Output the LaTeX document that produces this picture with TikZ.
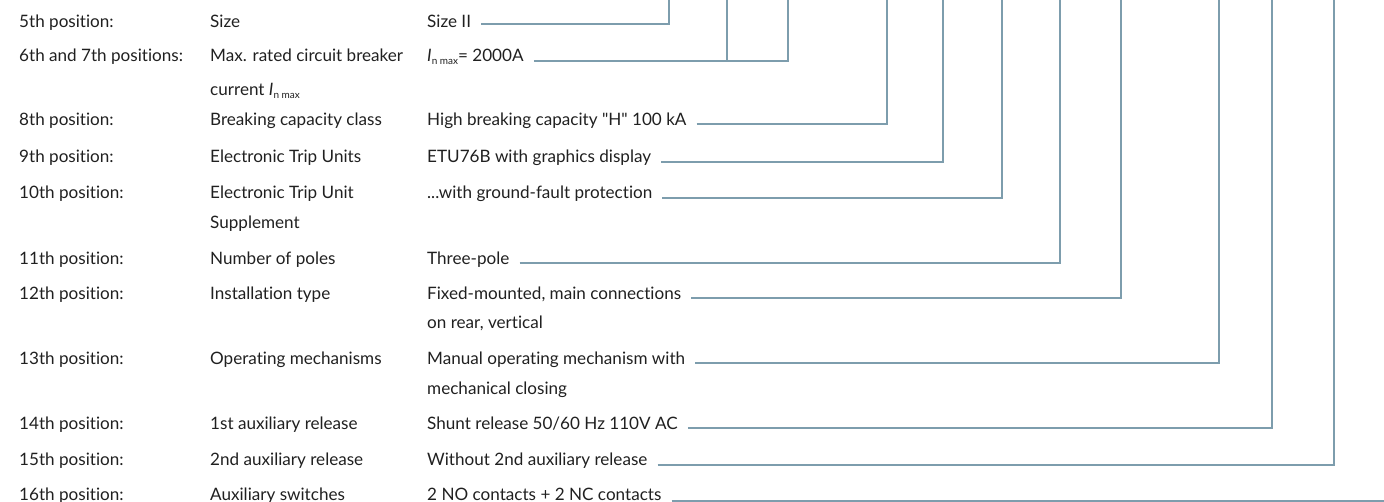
\documentclass[tikz,border=0pt]{standalone}
\usepackage{fontspec}
\setmainfont{Lato}[Ligatures={TeXOff,NoCommon}]

\definecolor{leadcol}{RGB}{125,157,173}
\definecolor{ink}{RGB}{32,32,32}

% I_{n max} with a small lowered subscript
\newcommand\subnmax{\raisebox{-2.5pt}{\fontsize{10}{10}\selectfont n max}}
\newcommand\inmax{{\itshape I}\subnmax}
% two stacked lines whose baseline is the first one
\newcommand\twolines[3][30pt]{\vtop{\baselineskip=#1\lineskiplimit=-100pt\hbox{#2}\hbox{#3}}}

\begin{document}
\begin{tikzpicture}[x=1pt,y=-1pt,
  txt/.style={inner sep=0pt, anchor=base west, text=ink,
              font=\fontsize{17.1}{20}\selectfont},
  lead/.style={draw=leadcol, line width=2pt, line join=miter}]

\useasboundingbox (0,0) rectangle (1384,502);
\coordinate (top) at (0,0);

% ---- rows: position / meaning / chosen value
\node[txt] (p5)  at (19,27.5)  {5th position:};
\node[txt] (d5)  at (210,27.5) {Size};
\node[txt] (v5)  at (427,27.5) {Size II};

\node[txt] (p6)  at (19,62)  {6th and 7th positions:};
\node[txt] (d6)  at (210,62) {\twolines[34pt]{Max. rated circuit breaker}{current \inmax}};
\node[txt] (v6)  at (427,62) {\inmax= 2000A};

\node[txt] (p8)  at (19,125.5)  {8th position:};
\node[txt] (d8)  at (210,125.5) {Breaking capacity class};
\node[txt] (v8)  at (427,125.5) {High breaking capacity "H" 100 kA};

\node[txt] (p9)  at (19,163)  {9th position:};
\node[txt] (d9)  at (210,163) {Electronic Trip Units};
\node[txt] (v9)  at (427,163) {ETU76B with graphics display};

\node[txt] (p10) at (19,199)  {10th position:};
\node[txt] (d10) at (210,199) {\twolines{Electronic Trip Unit}{Supplement}};
\node[txt] (v10) at (427,199) {...with ground-fault protection};

\node[txt] (p11) at (19,265)  {11th position:};
\node[txt] (d11) at (210,265) {Number of poles};
\node[txt] (v11) at (427,265) {Three-pole};

\node[txt] (p12) at (19,299.5)  {12th position:};
\node[txt] (d12) at (210,299.5) {Installation type};
\node[txt] (v12) at (427,299.5) {\twolines[29pt]{Fixed-mounted, main connections}{on rear, vertical}};

\node[txt] (p13) at (19,364.5)  {13th position:};
\node[txt] (d13) at (210,364.5) {Operating mechanisms};
\node[txt] (v13) at (427,364.5) {\twolines{Manual operating mechanism with}{mechanical closing}};

\node[txt] (p14) at (19,429)  {14th position:};
\node[txt] (d14) at (210,429) {1st auxiliary release};
\node[txt] (v14) at (427,429) {Shunt release 50/60 Hz 110V AC};

\node[txt] (p15) at (19,465.5)  {15th position:};
\node[txt] (d15) at (210,465.5) {2nd auxiliary release};
\node[txt] (v15) at (427,465.5) {Without 2nd auxiliary release};

\node[txt] (p16) at (19,500.5)  {16th position:};
\node[txt] (d16) at (210,500.5) {Auxiliary switches};
\node[txt] (v16) at (427,500.5) {2 NO contacts + 2 NC contacts};

% ---- leader corners
\coordinate (k5)  at (669,24);
\coordinate (k6)  at (727,61);
\coordinate (k7)  at (788,61);
\coordinate (k8)  at (887,124);
\coordinate (k9)  at (943,162);
\coordinate (k10) at (1002,198);
\coordinate (k11) at (1060,263);
\coordinate (k12) at (1121,298);
\coordinate (k13) at (1219,363);
\coordinate (k14) at (1272,428);
\coordinate (k15) at (1334,465);
\coordinate (k16) at (1390,501);

% ---- leaders from each value up to the type code
\draw[lead] ([xshift=10pt]v5.east |- k5) -- (k5) -- (k5 |- top);
\draw[lead] ([xshift=10pt]v6.east |- k7) -- (k7) -- (k7 |- top);
\draw[lead] (k6) -- (k6 |- top);
\draw[lead] ([xshift=10pt]v8.east |- k8) -- (k8) -- (k8 |- top);
\draw[lead] ([xshift=10pt]v9.east |- k9) -- (k9) -- (k9 |- top);
\draw[lead] ([xshift=10pt]v10.east |- k10) -- (k10) -- (k10 |- top);
\draw[lead] ([xshift=10pt]v11.east |- k11) -- (k11) -- (k11 |- top);
\draw[lead] ([xshift=10pt]v12.east |- k12) -- (k12) -- (k12 |- top);
\draw[lead] ([xshift=10pt]v13.east |- k13) -- (k13) -- (k13 |- top);
\draw[lead] ([xshift=10pt]v14.east |- k14) -- (k14) -- (k14 |- top);
\draw[lead] ([xshift=10pt]v15.east |- k15) -- (k15) -- (k15 |- top);
\draw[lead] ([xshift=10pt]v16.east |- k16) -- (k16);

\end{tikzpicture}
\end{document}
